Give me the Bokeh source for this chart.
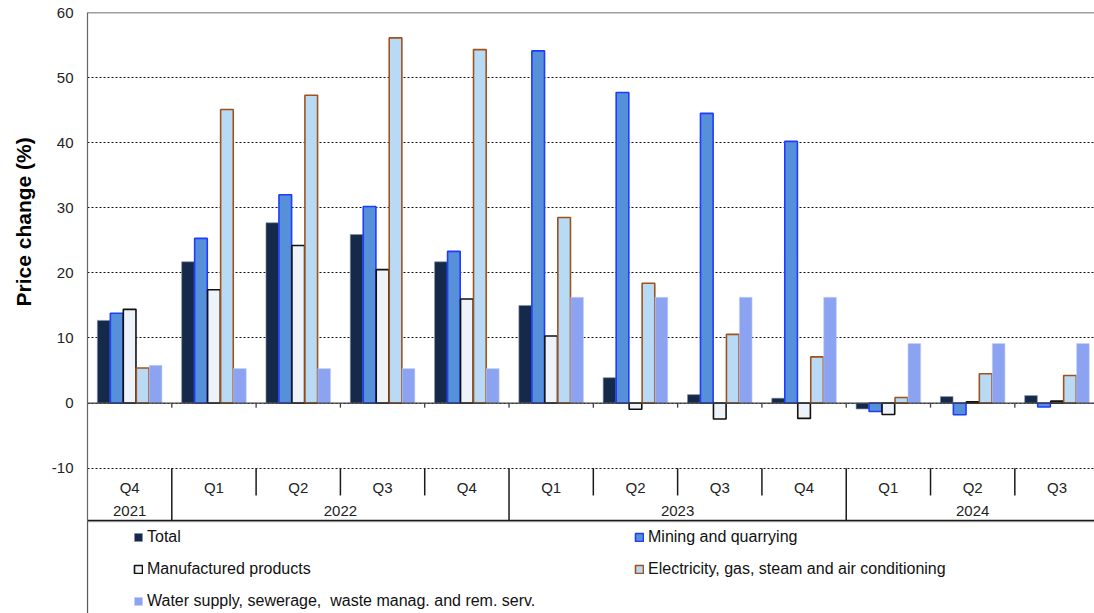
from bokeh.plotting import figure
from bokeh.models import (Range1d, FixedTicker, Span, Legend, LegendItem, Title,
                          BoxAnnotation, ColumnDataSource)
from bokeh.transform import dodge
from bokeh.core.properties import value
from bokeh.embed import file_html
from bokeh.resources import INLINE

# ---------------- data ----------------
quarters = ["Q4", "Q1", "Q2", "Q3", "Q4", "Q1", "Q2", "Q3", "Q4", "Q1", "Q2", "Q3"]
years = ["2021", "2022", "2022", "2022", "2022", "2023", "2023", "2023", "2023",
         "2024", "2024", "2024"]
total = [12.7, 21.7, 27.7, 25.9, 21.7, 15.0, 3.9, 1.3, 0.75, -0.9, 1.0, 1.15]
mining = [13.8, 25.3, 32.0, 30.2, 23.3, 54.1, 47.7, 44.5, 40.2, -1.3, -1.8, -0.6]
manufactured = [14.4, 17.4, 24.2, 20.5, 16.0, 10.3, -0.95, -2.45, -2.35, -1.75, 0.2, 0.3]
electricity = [5.4, 45.1, 47.3, 56.1, 54.3, 28.5, 18.4, 10.55, 7.1, 0.87, 4.5, 4.25]
water = [5.8, 5.3, 5.3, 5.3, 5.3, 16.25, 16.25, 16.25, 16.25, 9.15, 9.15, 9.15]
y_ticks = [-10, 0, 10, 20, 30, 40, 50, 60]

series_labels = ["Total", "Mining and quarrying", "Manufactured products",
                 "Electricity, gas, steam and air conditioning",
                 "Water supply, sewerage,  waste manag. and rem. serv."]

FONT = "Liberation Sans"
n = len(quarters)
xc = [i + 0.5 for i in range(n)]

p = figure(width=1094, height=613,
           x_range=Range1d(0, 11.945), y_range=Range1d(-32.32, 60),
           output_backend="svg", toolbar_location=None,
           min_border_left=87, min_border_right=0, min_border_top=12, min_border_bottom=0)
p.outline_line_color = None
p.background_fill_color = "white"
p.border_fill_color = "white"
p.xaxis.visible = False
p.xgrid.visible = False

ticker = FixedTicker(ticks=y_ticks)
p.yaxis.ticker = ticker
p.ygrid.ticker = ticker
p.ygrid.grid_line_color = "#111111"
p.ygrid.grid_line_dash = "2 2"
p.ygrid.grid_line_width = 1
p.yaxis.major_tick_out = 0
p.yaxis.major_tick_in = 0
p.yaxis.minor_tick_line_color = None
p.yaxis.axis_line_color = "#666666"
p.yaxis.axis_line_width = 1.2
p.yaxis.major_label_standoff = 14
p.yaxis.major_label_text_font = FONT
p.yaxis.major_label_text_font_size = "15px"
p.yaxis.major_label_text_color = "#222222"
p.yaxis.major_label_overrides = {t: str(t) for t in y_ticks}

# y-axis title as a left-side title, placed beside the value area
p.add_layout(Title(text="Price change (%)", align="left", offset=307, standoff=23,
                   vertical_align="top", text_line_height=0.7,
                   text_font=FONT, text_font_size="21px", text_font_style="bold",
                   text_color="#000000"), "left")

# ---------------- bars ----------------
src = ColumnDataSource(dict(x=xc, total=total, mining=mining, manuf=manufactured,
                            elec=electricity, water=water))
W = 0.15
OFF = 0.154
styles = [
    ("total", dict(fill_color="#152a4a", line_color="#7f8ea3", line_width=0.6)),
    ("mining", dict(fill_color="#5590d9", line_color="#1f3bff", line_width=1.6)),
    ("manuf", dict(fill_color="#eef3fa", line_color="#111111", line_width=1.6)),
    ("elec", dict(fill_color="#b8daf5", line_color="#a0521d", line_width=1.6)),
    ("water", dict(fill_color="#8ba3f0", line_color="#c4cff8", line_width=0.6)),
]
renderers = []
for k, (col, st) in enumerate(styles):
    r = p.vbar(x=dodge("x", (k - 2) * OFF), top=col, bottom=0, width=W, source=src, **st)
    renderers.append(r)

# top border and zero line
p.add_layout(Span(location=60, dimension="width", line_color="#404040", line_width=1.5))
p.add_layout(Span(location=0, dimension="width", line_color="#404040", line_width=1.3))

# ticks on zero line at group boundaries
bounds = list(range(1, n + 1))
p.segment(x0=bounds, y0=[0] * len(bounds), x1=bounds, y1=[-0.7] * len(bounds),
          line_color="#404040", line_width=1.3)

# ---------------- category table ----------------
Q_Y, YR_Y, Q_BOT, T_BOT = -12.96, -16.65, -14.19, -18.05
year_bounds = [i for i in range(1, n) if years[i] != years[i - 1]]
q_bounds = [i for i in range(1, n) if i not in year_bounds]
p.segment(x0=q_bounds, y0=[-10] * len(q_bounds), x1=q_bounds, y1=[Q_BOT] * len(q_bounds),
          line_color="#1a1a1a", line_width=1.5)
p.segment(x0=year_bounds, y0=[-10] * len(year_bounds), x1=year_bounds,
          y1=[T_BOT] * len(year_bounds), line_color="#1a1a1a", line_width=1.5)
p.segment(x0=[0], y0=[T_BOT], x1=[n + 1], y1=[T_BOT], line_color="#1a1a1a", line_width=1.5)

p.text(x=xc, y=[Q_Y] * n, text=quarters, text_font=value(FONT), text_font_size="15px",
       text_color="#222222", text_align="center", text_baseline="middle")

yr_names, yr_pos = [], []
start = 0
for i in range(1, n + 1):
    if i == n or years[i] != years[start]:
        yr_names.append(years[start])
        yr_pos.append((start + i) / 2)
        start = i
p.text(x=yr_pos, y=[YR_Y] * len(yr_pos), text=yr_names, text_font=value(FONT),
       text_font_size="15px", text_color="#222222", text_align="center",
       text_baseline="middle")

# ---------------- legend ----------------
p.add_layout(BoxAnnotation(left=0, right=n + 1, top=-18.2, bottom=-45,
                           fill_alpha=0, fill_color=None, line_color="#1a1a1a",
                           line_width=1.3))
items = [LegendItem(label=lab, renderers=[r]) for lab, r in zip(series_labels, renderers)]
legend = Legend(items=items, orientation="horizontal", ncols=2,
                location=(46, 2), padding=0, margin=0, spacing=12,
                glyph_width=10, glyph_height=10, label_height=20, label_width=475,
                label_standoff=4, label_text_font=FONT, label_text_font_size="16px",
                label_text_color="#111111", border_line_color=None,
                background_fill_alpha=0)
p.add_layout(legend)

open("out.html", "w").write(file_html(p, INLINE))
